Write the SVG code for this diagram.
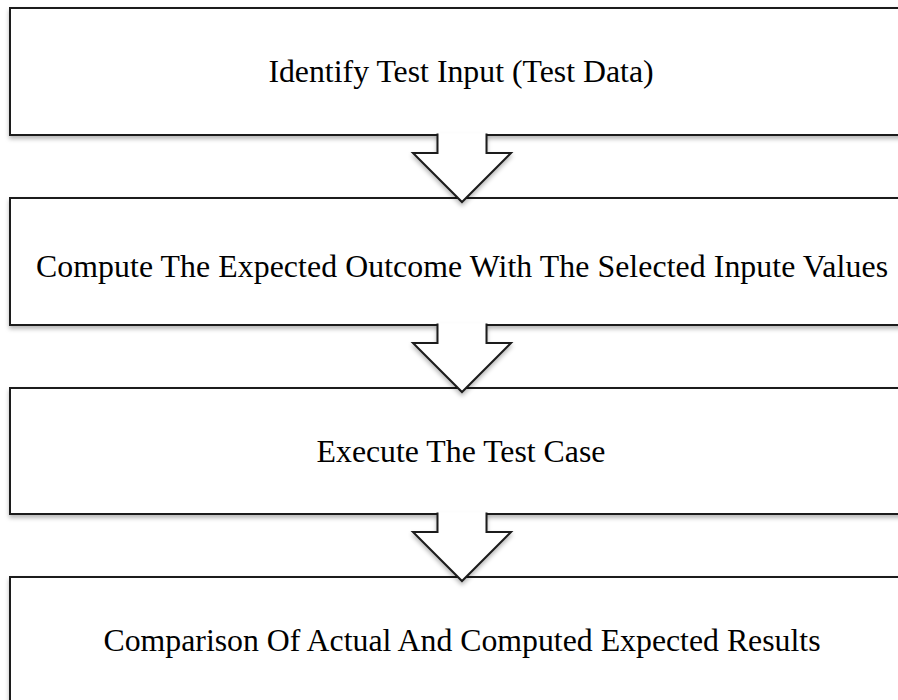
<svg xmlns="http://www.w3.org/2000/svg" width="898" height="700" viewBox="0 0 898 700">
  <defs>
    <filter id="shadow" x="-5%" y="-10%" width="110%" height="130%">
      <feDropShadow dx="0" dy="3" stdDeviation="2" flood-color="#000" flood-opacity="0.28"/>
    </filter>
    <style>
      .box { fill: #ffffff; stroke: #1a1a1a; stroke-width: 2; filter: url(#shadow); }
      .arrow { fill: #ffffff; stroke: #1a1a1a; stroke-width: 2; stroke-linejoin: miter; filter: url(#shadow); }
      .label { font-family: "Liberation Serif", "Times New Roman", serif; font-size: 31.8px; fill: #000; text-anchor: middle; }
    </style>
  </defs>
  <rect width="898" height="700" fill="#ffffff"/>

  <g id="step-identify-input">
    <rect class="box" x="10" y="8" width="905" height="127"/>
    <text class="label" x="461" y="82">Identify Test Input (Test Data)</text>
  </g>

  <g id="step-compute-expected">
    <rect class="box" x="10" y="198" width="905" height="127"/>
    <text class="label" x="462" y="277" textLength="852" lengthAdjust="spacing">Compute The Expected Outcome With The Selected Inpute Values</text>
  </g>

  <g id="step-execute">
    <rect class="box" x="10" y="388" width="905" height="126"/>
    <text class="label" x="461" y="462">Execute The Test Case</text>
  </g>

  <g id="step-compare">
    <rect class="box" x="10" y="577" width="905" height="200"/>
    <text class="label" x="462" y="651">Comparison Of Actual And Computed Expected Results</text>
  </g>

  <g id="connectors">
    <path class="arrow" d="M437.5,133.5 V153 H413 L462,202 L511,153 H486.5 V133.5"/>
    <path class="arrow" d="M437.5,323.5 V343 H413 L462,392 L511,343 H486.5 V323.5"/>
    <path class="arrow" d="M437.5,512.5 V532 H413 L462,581 L511,532 H486.5 V512.5"/>
  </g>
</svg>
